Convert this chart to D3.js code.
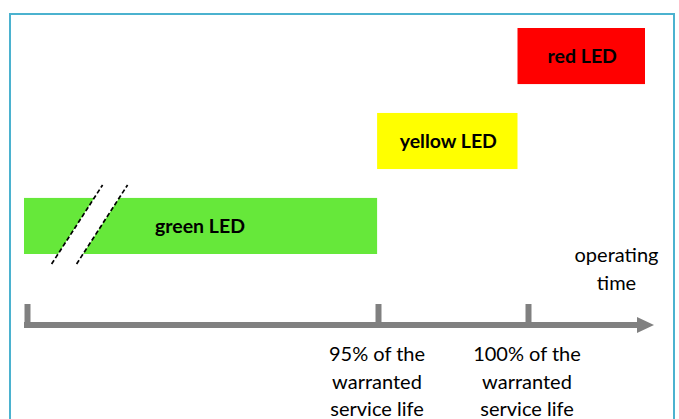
<!DOCTYPE html>
<html lang="en">
<head>
    <meta charset="UTF-8">
    <title>LED status over operating time</title>
    <script src="https://d3js.org/d3.v7.min.js"></script>
    <style>
        body { margin: 0; background: #fff; }
        text { font-family: Lato, "Open Sans", sans-serif; fill: #000; }
    </style>
</head>
<body>
<svg></svg>
<script>
    // data: LED state bars on the operating time axis (percent of warranted service life)
    const levels = ["red LED", "yellow LED", "green LED"];
    const barStart = [99.65, 94.97, 83.2];
    const barEnd = [103.9, 99.65, 94.97];
    const barColors = ["#ff0000", "#ffff00", "#66e83a"];
    const tickVals = [83.3, 95, 100];
    const tickLabels = [[], ["95% of the", "warranted", "service life"], ["100% of the", "warranted", "service life"]];
    const axisEnd = 104.2;
    const breakAt = 84.12;
    const axisTitle = ["operating", "time"];

    const width = 679, height = 419;
    const svg = d3.select("svg").attr("width", width).attr("height", height);

    // frame
    svg.append("rect")
        .attr("x", 10).attr("y", 14)
        .attr("width", 664).attr("height", 420)
        .attr("fill", "none")
        .attr("stroke", "#4bb2cf")
        .attr("stroke-width", 2);

    const x = d3.scaleLinear()
        .domain([83.2, 104.1])
        .range([24, 651]);

    const y = d3.scaleBand()
        .domain(levels)
        .range([28, 254])
        .paddingInner(0.34)
        .paddingOuter(0);

    // bars
    svg.selectAll(".bar")
        .data(levels)
        .join("rect")
        .attr("class", "bar")
        .attr("x", (d, i) => x(barStart[i]))
        .attr("y", d => y(d))
        .attr("width", (d, i) => x(barEnd[i]) - x(barStart[i]))
        .attr("height", y.bandwidth())
        .attr("fill", (d, i) => barColors[i]);

    svg.selectAll(".barlabel")
        .data(levels)
        .join("text")
        .attr("class", "barlabel")
        .attr("x", (d, i) => i == 2 ? x(barStart[i]) + 176 : (x(barStart[i]) + x(barEnd[i])) / 2 + 1)
        .attr("y", d => y(d) + y.bandwidth() / 2 + 7)
        .attr("text-anchor", "middle")
        .attr("font-size", 19.5)
        .attr("font-weight", "bold")
        .text(d => d);

    // axis break on the green bar
    const yTop = y("green LED") - 13, yBot = y("green LED") + y.bandwidth() + 10;
    const lean = 51, gap = 25;
    const bx = x(breakAt);
    svg.append("path")
        .attr("d", `M${bx},${yBot} L${bx + lean},${yTop} L${bx + lean + gap},${yTop} L${bx + gap},${yBot} Z`)
        .attr("fill", "#fff");
    [0, gap].forEach(o => {
        svg.append("line")
            .attr("x1", bx + o).attr("y1", yBot)
            .attr("x2", bx + o + lean).attr("y2", yTop)
            .attr("stroke", "#000")
            .attr("stroke-width", 1.7)
            .attr("stroke-dasharray", "4.5,2.5");
    });

    // time axis
    const axisY = 325;
    const axis = svg.append("g")
        .attr("transform", `translate(0,${axisY})`)
        .call(d3.axisTop(x).tickValues(tickVals).tickSize(21).tickSizeOuter(0).tickFormat(""));
    axis.select(".domain").remove();
    axis.selectAll(".tick line")
        .attr("stroke", "#808080")
        .attr("stroke-width", 6);
    axis.append("line")
        .attr("x1", x(83.2)).attr("x2", x(axisEnd) - 15)
        .attr("stroke", "#808080")
        .attr("stroke-width", 6);
    axis.append("path")
        .attr("d", `M${x(axisEnd) - 17},-8 L${x(axisEnd)},0 L${x(axisEnd) - 17},8 Z`)
        .attr("fill", "#808080");

    // tick labels under the axis
    svg.selectAll(".ticklabel")
        .data(tickVals)
        .join("text")
        .attr("class", "ticklabel")
        .attr("text-anchor", "middle")
        .attr("font-size", 20)
        .selectAll("tspan")
        .data((d, i) => tickLabels[i].map(t => ({ v: d, t: t })))
        .join("tspan")
        .attr("x", d => x(d.v) - 1)
        .attr("y", (d, j) => 361 + j * 27.5)
        .text(d => d.t);

    svg.append("text")
        .attr("text-anchor", "middle")
        .attr("font-size", 20)
        .selectAll("tspan")
        .data(axisTitle)
        .join("tspan")
        .attr("x", x(102.95))
        .attr("y", (d, j) => 262 + j * 28)
        .text(d => d);
</script>
</body>
</html>
